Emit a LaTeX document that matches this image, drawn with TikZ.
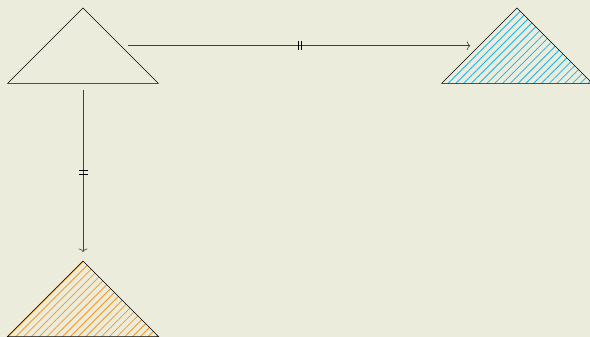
\documentclass[tikz,border=0pt]{standalone}
\usetikzlibrary{shapes.geometric,patterns.meta,decorations.markings,arrows.meta}

\definecolor{paper}{RGB}{236,236,220}
\definecolor{hatchblue}{RGB}{20,180,235}
\definecolor{hatchorange}{RGB}{247,150,30}

\begin{document}
\begin{tikzpicture}[
		x=1pt,y=-1pt,
		>={To[length=3.5pt,width=9pt]},
		tri/.style={
			draw=black,
			line width=0.5pt,
			isosceles triangle,
			isosceles triangle apex angle=90,
			shape border rotate=90,
			minimum height=75.5pt,
			inner sep=0pt,
			outer sep=0pt,
			anchor=apex
		},
		hatch/.style={
			pattern={Lines[angle=45,distance=5.5pt,line width=0.8pt]},
			pattern color=#1
		},
		link/.style={
			->,
			draw=black!75,
			line width=0.6pt,
			shorten <=#1,
			shorten >=9pt,
			postaction={decorate},
			decoration={markings,
				mark=at position 0.5 with {
					\draw[-,shorten <=0pt,shorten >=0pt,black,line width=0.7pt]
					(-1.6,-4.5) -- (-1.6,4.5) (1.6,-4.5) -- (1.6,4.5);
				}}
		}
		]
		
		%--------------------------------------------------
		% Background
		%--------------------------------------------------
		
		\fill[paper] (0,0) rectangle (590,337);
		\useasboundingbox (0,0) rectangle (590,337);
		
		%--------------------------------------------------
		% Triangles
		%--------------------------------------------------
		
		\node[tri] (source) at (83,8) {};
		\node[tri,hatch=hatchblue] (east) at (517,8) {};
		\node[tri,hatch=hatchorange] (south) at (83,261) {};
		
		%--------------------------------------------------
		% Arrows
		%--------------------------------------------------
		
		\draw[link=7pt] (source.right side) -- (east.left side);
		\draw[link=6pt] (source.south) -- (south.apex);
		
	\end{tikzpicture}
\end{document}
